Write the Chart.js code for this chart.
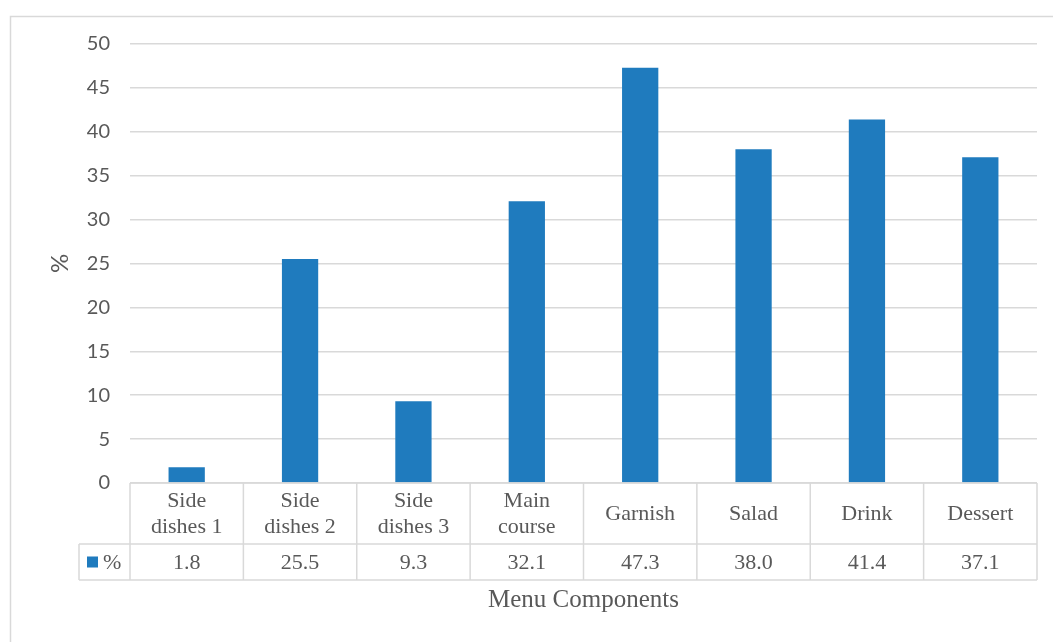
<!DOCTYPE html>
<html>
<head>
<meta charset="utf-8">
<script src="https://cdn.jsdelivr.net/npm/chart.js@4"></script>
<style>
    html, body { margin: 0; padding: 0; background: #ffffff; }
    #wrap { width: 1053px; height: 642px; }
</style>
</head>
<body>
<div id="wrap"><canvas id="menuChart"></canvas></div>
<script>
// Chart data
const categories = [['Side', 'dishes 1'], ['Side', 'dishes 2'], ['Side', 'dishes 3'], ['Main', 'course'], 'Garnish', 'Salad', 'Drink', 'Dessert'];
const percentValues = [1.8, 25.5, 9.3, 32.1, 47.3, 38.0, 41.4, 37.1];
const yTicks = [0, 5, 10, 15, 20, 25, 30, 35, 40, 45, 50];
const seriesName = '%';

const barColor = '#1f7bbe';
const lineColor = '#d9d9d9';
const textColor = '#595959';
const serifFont = '"Liberation Serif", "Times New Roman", serif';

// Outer frame of the chart object
const framePlugin = {
    id: 'frame',
    beforeDraw(chart) {
        const ctx = chart.ctx;
        ctx.save();
        ctx.strokeStyle = lineColor;
        ctx.lineWidth = 1.5;
        ctx.strokeRect(10.5, 16.5, 1200, 800);
        ctx.restore();
    }
};

// Data table under the plot, aligned to the x scale
const dataTablePlugin = {
    id: 'dataTable',
    afterDraw(chart) {
        const ctx = chart.ctx;
        const xScale = chart.scales.x;
        const n = categories.length;
        const colW = (xScale.right - xScale.left) / n;
        const top = chart.chartArea.bottom;
        const rowSplit = top + 61;
        const bottom = rowSplit + 36;
        const legendLeft = 79;

        ctx.save();
        ctx.strokeStyle = lineColor;
        ctx.lineWidth = 1.5;
        ctx.beginPath();
        ctx.moveTo(xScale.left, top); ctx.lineTo(xScale.right, top);
        ctx.moveTo(legendLeft, rowSplit); ctx.lineTo(xScale.right, rowSplit);
        ctx.moveTo(legendLeft, bottom); ctx.lineTo(xScale.right, bottom);
        ctx.moveTo(legendLeft, rowSplit); ctx.lineTo(legendLeft, bottom);
        for (let i = 0; i <= n; i++) {
            const x = xScale.left + i * colW;
            ctx.moveTo(x, top); ctx.lineTo(x, bottom);
        }
        ctx.stroke();

        ctx.fillStyle = textColor;
        ctx.font = '22px ' + serifFont;
        ctx.textAlign = 'center';
        ctx.textBaseline = 'middle';
        const lineH = 26;
        categories.forEach((label, i) => {
            const cx = xScale.getPixelForValue(i);
            const lines = Array.isArray(label) ? label : [label];
            const startY = (top + rowSplit) / 2 - (lines.length - 1) * lineH / 2 + 1;
            lines.forEach((ln, j) => ctx.fillText(ln, cx, startY + j * lineH));
            ctx.fillText(percentValues[i].toFixed(1), cx, (rowSplit + bottom) / 2 + 1);
        });

        // Legend key in the first cell
        const midY = (rowSplit + bottom) / 2;
        ctx.fillStyle = barColor;
        ctx.fillRect(87, midY - 5.5, 11, 11);
        ctx.fillStyle = textColor;
        ctx.textAlign = 'left';
        ctx.fillText(seriesName, 103, midY + 1);
        ctx.restore();
    }
};

const ctx = document.getElementById('menuChart').getContext('2d');
new Chart(ctx, {
    type: 'bar',
    data: {
        labels: categories,
        datasets: [{
            label: seriesName,
            data: percentValues,
            backgroundColor: barColor,
            borderWidth: 0,
            barPercentage: 0.32,
            categoryPercentage: 1.0
        }]
    },
    options: {
        responsive: true,
        maintainAspectRatio: false,
        animation: false,
        layout: {
            padding: { top: 44, right: 16, left: 0, bottom: 0 }
        },
        plugins: {
            legend: { display: false },
            tooltip: { enabled: false }
        },
        scales: {
            x: {
                grid: { display: false },
                border: { display: false },
                ticks: { display: false },
                title: {
                    display: true,
                    text: 'Menu Components',
                    color: textColor,
                    font: { family: serifFont, size: 25 },
                    padding: { top: 0, bottom: 27 }
                },
                afterFit(scale) {
                    scale.height = 159;
                }
            },
            y: {
                min: 0,
                max: 50,
                afterBuildTicks(scale) {
                    scale.ticks = yTicks.map(v => ({ value: v }));
                },
                grid: {
                    color: lineColor,
                    lineWidth: 1.5,
                    drawTicks: false
                },
                border: { display: false },
                ticks: {
                    color: textColor,
                    padding: 20,
                    font: { family: 'Lato, "Open Sans", sans-serif', size: 20 }
                },
                title: {
                    display: true,
                    text: '%',
                    color: textColor,
                    font: { family: 'Lato, "Open Sans", sans-serif', size: 24 },
                    padding: { top: 46, bottom: 0 }
                },
                afterFit(scale) {
                    scale.width = 130;
                }
            }
        }
    },
    plugins: [framePlugin, dataTablePlugin]
});
</script>
</body>
</html>
